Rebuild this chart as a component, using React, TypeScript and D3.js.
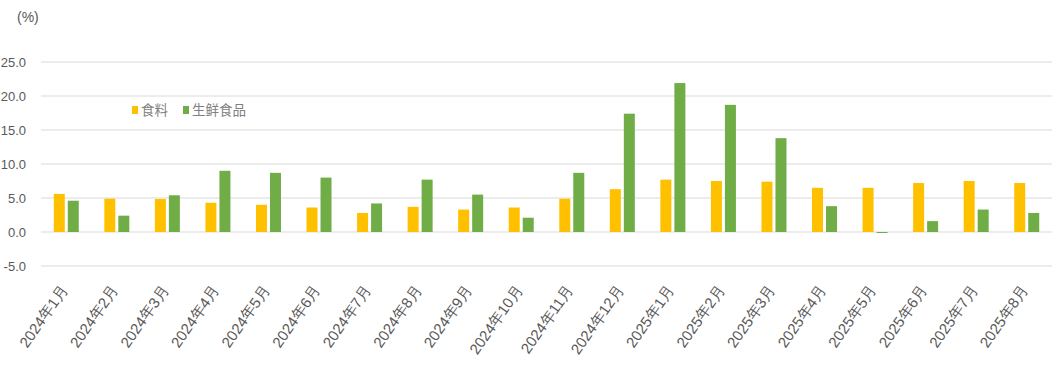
import React, { useEffect, useRef } from "react";
import * as d3 from "d3";

const categories = [
  "2024年1月", "2024年2月", "2024年3月", "2024年4月", "2024年5月", "2024年6月",
  "2024年7月", "2024年8月", "2024年9月", "2024年10月", "2024年11月", "2024年12月",
  "2025年1月", "2025年2月", "2025年3月", "2025年4月", "2025年5月", "2025年6月",
  "2025年7月", "2025年8月",
];
const food = [5.6, 4.9, 4.85, 4.3, 4.0, 3.6, 2.8, 3.7, 3.3, 3.6, 4.9, 6.3, 7.7, 7.5, 7.4, 6.5, 6.5, 7.2, 7.5, 7.2];
const freshFood = [4.6, 2.4, 5.4, 9.0, 8.7, 8.0, 4.2, 7.7, 5.5, 2.1, 8.7, 17.4, 21.9, 18.7, 13.8, 3.8, -0.1, 1.6, 3.3, 2.8];
const yTicks = [-5, 0, 5, 10, 15, 20, 25];
const seriesNames = ["食料", "生鲜食品"];
const colors = ["#FFC000", "#70AD47"];

const W = 1064;
const H = 369;
const left = 41;
const right = 1052;
const yTop = 62;
const yBottom = 266;

export default function App() {
  const ref = useRef<SVGSVGElement>(null);
  useEffect(() => {
    const svg = d3.select(ref.current);
    svg.selectAll("*").remove();
    const font = "'Liberation Sans', Arial, sans-serif";
    const y = d3.scaleLinear().domain([-5, 25]).range([yBottom, yTop]);
    const x = d3.scaleBand<string>().domain(categories).range([left, right]).paddingInner(0).paddingOuter(0);
    const bw = 11;
    const gap = 3;

    svg.append("g").selectAll("line").data(yTicks).join("line")
      .attr("x1", left).attr("x2", right)
      .attr("y1", (d) => y(d)).attr("y2", (d) => y(d))
      .attr("stroke", "#d9d9d9").attr("stroke-width", 1);

    svg.append("g").selectAll("text").data(yTicks).join("text")
      .attr("x", 26).attr("y", (d) => y(d)).attr("dy", "0.35em")
      .attr("text-anchor", "end")
      .attr("font-family", font).attr("font-size", 13).attr("fill", "#595959")
      .text((d) => d.toFixed(1));

    svg.append("text").attr("x", 17).attr("y", 22)
      .attr("font-family", font).attr("font-size", 14).attr("fill", "#595959")
      .text("(%)");

    const series = [food, freshFood];
    series.forEach((vals, si) => {
      svg.append("g").selectAll("rect").data(vals).join("rect")
        .attr("x", (_, i) => {
          const c = (x(categories[i]) as number) + x.bandwidth() / 2;
          return si === 0 ? c - gap / 2 - bw : c + gap / 2;
        })
        .attr("y", (d) => y(Math.max(0, d)))
        .attr("width", bw)
        .attr("height", (d) => Math.max(1, Math.abs(y(d) - y(0))))
        .attr("fill", colors[si]);
    });

    svg.append("g").selectAll("text").data(categories).join("text")
      .attr("transform", (d) => {
        const cx = (x(d) as number) + x.bandwidth() / 2 + 2;
        return `translate(${cx},${290}) rotate(-55)`;
      })
      .attr("text-anchor", "end")
      .attr("font-family", font).attr("font-size", 15).attr("fill", "#595959")
      .text((d) => d);

    const lg = svg.append("g");
    const items = [
      { x: 132, name: seriesNames[0], color: colors[0] },
      { x: 183, name: seriesNames[1], color: colors[1] },
    ];
    items.forEach((it) => {
      lg.append("rect").attr("x", it.x).attr("y", 106).attr("width", 6).attr("height", 8).attr("fill", it.color);
      lg.append("text").attr("x", it.x + 9).attr("y", 110).attr("dy", "0.35em")
        .attr("font-family", "'Noto Sans CJK SC', sans-serif").attr("font-size", 13.5).attr("fill", "#808080")
        .text(it.name);
    });
  }, []);
  return (
    <svg ref={ref} width={W} height={H} style={{ position: "absolute", left: 0, top: 0, background: "#fff" }} />
  );
}
